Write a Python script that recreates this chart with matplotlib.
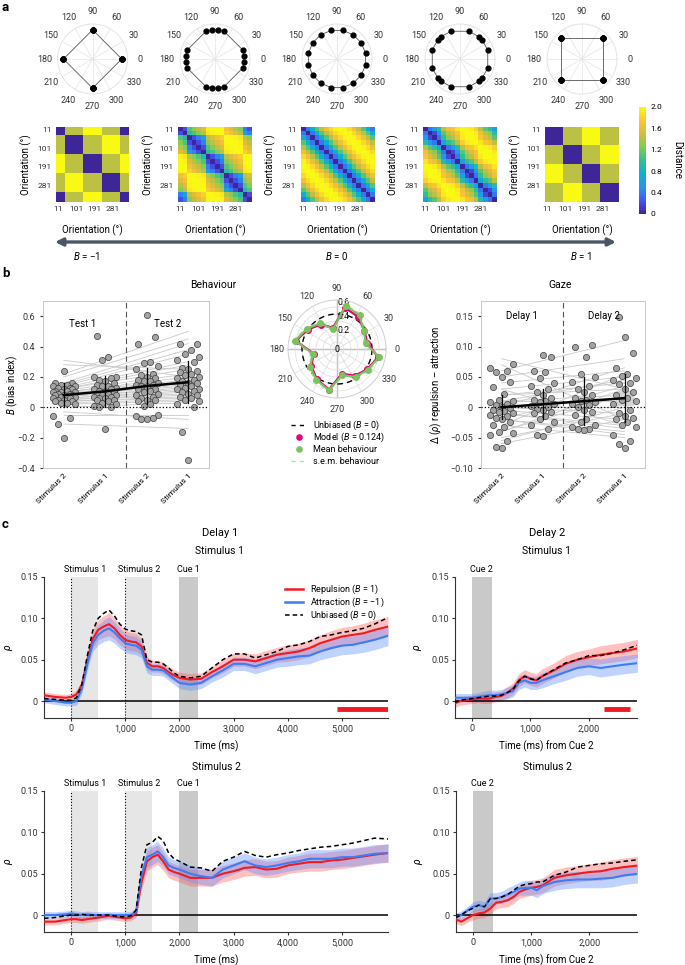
import numpy as np
import matplotlib
matplotlib.use("Agg")
import matplotlib.pyplot as plt
from matplotlib.colors import LinearSegmentedColormap
from matplotlib.patches import FancyArrowPatch, Rectangle
from matplotlib.transforms import blended_transform_factory

plt.rcParams["font.family"] = ["Roboto", "DejaVu Sans"]
plt.rcParams["mathtext.fontset"] = "custom"
plt.rcParams["mathtext.rm"] = "Roboto"
plt.rcParams["mathtext.it"] = "Roboto:italic"
plt.rcParams["font.size"] = 6.5
plt.rcParams["axes.linewidth"] = 0.7

RED = "#f01a23"; BLUE = "#3d7cf5"; GREEN = "#7cc25e"; MAGENTA = "#e5007d"; DARK = "#333333"

# ---------------- data: panel a ----------------
orient = [11.25, 33.75, 56.25, 78.75, 101.25, 123.75, 146.25, 168.75,
          191.25, 213.75, 236.25, 258.75, 281.25, 303.75, 326.25, 348.75]
ang_bm1 = [0, 0, 90, 90, 90, 90, 180, 180, 180, 180, 270, 270, 270, 270, 0, 0]
ang_bm05 = [6, 18, 72, 84, 96, 108, 162, 174, 186, 198, 252, 264, 276, 288, 342, 354]
ang_b0 = orient
ang_b05 = [18, 40, 50, 72, 108, 130, 140, 162, 198, 220, 230, 252, 288, 310, 320, 342]
ang_b1 = [45, 45, 45, 45, 135, 135, 135, 135, 225, 225, 225, 225, 315, 315, 315, 315]
a_sets = [ang_bm1, ang_bm05, ang_b0, ang_b05, ang_b1]
theta_ticks = [0, 30, 60, 90, 120, 150, 180, 210, 240, 270, 300, 330]

# ---------------- data: panel b ----------------
cond_labels = ["Stimulus 2", "Stimulus 1", "Stimulus 2", "Stimulus 1"]
beh_s2_t1 = [0.24, 0.16, 0.16, 0.15, 0.15, 0.14, 0.14, 0.13, 0.13, 0.12, 0.12, 0.11, 0.11, 0.10, 0.10, 0.10,
             0.09, 0.09, 0.08, 0.08, 0.08, 0.07, 0.07, 0.07, 0.06, 0.06, 0.05, 0.05, 0.04, 0.04, 0.03, 0.03,
             0.02, -0.06, -0.07, -0.11, -0.20]
beh_s1_t1 = [0.47, 0.33, 0.31, 0.20, 0.20, 0.19, 0.18, 0.17, 0.16, 0.15, 0.14, 0.14, 0.13, 0.12, 0.12, 0.11,
             0.10, 0.10, 0.09, 0.09, 0.08, 0.08, 0.07, 0.07, 0.06, 0.06, 0.05, 0.05, 0.04, 0.03, 0.02, 0.01,
             0.00, 0.00, -0.14]
beh_s2_t2 = [0.61, 0.46, 0.42, 0.30, 0.29, 0.27, 0.25, 0.22, 0.21, 0.20, 0.19, 0.18, 0.17, 0.17, 0.16, 0.15,
             0.15, 0.14, 0.13, 0.12, 0.12, 0.11, 0.10, 0.09, 0.08, 0.07, 0.06, 0.05, 0.05, 0.04, 0.02, 0.01,
             -0.05, -0.06, -0.07, -0.08, -0.08]
beh_s1_t2 = [0.42, 0.42, 0.38, 0.35, 0.33, 0.31, 0.30, 0.26, 0.25, 0.24, 0.23, 0.22, 0.21, 0.20, 0.19, 0.18,
             0.17, 0.16, 0.16, 0.15, 0.14, 0.13, 0.12, 0.12, 0.11, 0.10, 0.09, 0.08, 0.07, 0.06, 0.05, 0.04,
             0.02, 0.00, -0.16, -0.35]
beh_line_start = [0.31, 0.28, 0.22, 0.20, 0.16, 0.15, 0.14, 0.13, 0.12, 0.12, 0.11, 0.10, 0.10, 0.09, 0.09, 0.08,
                  0.08, 0.07, 0.07, 0.06, 0.06, 0.05, 0.05, 0.04, 0.04, 0.03, 0.02, 0.00, -0.03, -0.05, -0.11]
beh_line_end = [0.20, 0.25, 0.50, 0.45, 0.42, 0.38, 0.35, 0.30, 0.28, 0.25, 0.22, 0.20, 0.18, 0.17, 0.16, 0.15,
                0.14, 0.13, 0.12, 0.11, 0.10, 0.09, 0.08, 0.07, 0.06, 0.05, 0.04, 0.03, -0.08, -0.05, -0.14]
beh_mean = [0.08, 0.105, 0.14, 0.165]
beh_sem = [0.015, 0.02, 0.025, 0.025]
beh_err = [0.08, 0.10, 0.12, 0.14]

polar_mean = [0.42, 0.46, 0.58, 0.63, 0.29, 0.44, 0.52, 0.61, 0.35, 0.46, 0.53, 0.60, 0.38, 0.48, 0.53, 0.61]
polar_model = [0.44, 0.47, 0.55, 0.60, 0.31, 0.42, 0.50, 0.60, 0.34, 0.44, 0.52, 0.59, 0.36, 0.46, 0.52, 0.60]
polar_sem = [0.02, 0.02, 0.02, 0.025, 0.02, 0.02, 0.02, 0.025, 0.02, 0.02, 0.02, 0.025, 0.02, 0.02, 0.02, 0.025]
unbiased_r = 0.5

gaze_s2_d1 = [0.072, 0.065, 0.06, 0.058, 0.05, 0.042, 0.033, 0.022, 0.012, 0.01, 0.008, 0.005, 0.003, 0.0,
              -0.002, -0.004, -0.006, -0.008, -0.01, -0.012, -0.015, -0.018, -0.02, -0.025, -0.03, -0.032,
              -0.04, -0.043, -0.045, -0.055, -0.065, -0.067]
gaze_s1_d1 = [0.086, 0.082, 0.06, 0.058, 0.048, 0.04, 0.035, 0.03, 0.025, 0.02, 0.015, 0.012, 0.01, 0.008,
              0.005, 0.002, 0.0, -0.003, -0.005, -0.008, -0.01, -0.015, -0.02, -0.025, -0.03, -0.035, -0.045, -0.048]
gaze_s2_d2 = [0.103, 0.1, 0.083, 0.055, 0.05, 0.042, 0.035, 0.03, 0.025, 0.02, 0.015, 0.012, 0.01, 0.008,
              0.005, 0.003, 0.0, -0.005, -0.008, -0.012, -0.02, -0.025, -0.03, -0.033, -0.035, -0.036, -0.038]
gaze_s1_d2 = [0.148, 0.115, 0.09, 0.065, 0.055, 0.052, 0.048, 0.045, 0.04, 0.038, 0.03, 0.025, 0.02, 0.015,
              0.012, 0.01, 0.005, -0.005, -0.01, -0.015, -0.018, -0.02, -0.025, -0.03, -0.032, -0.045,
              -0.055, -0.06, -0.067]
gaze_line_start = [0.08, 0.07, 0.06, 0.05, 0.04, 0.03, 0.02, 0.02, 0.01, 0.01, 0.0, 0.0, -0.005, -0.01,
                   -0.01, -0.02, -0.02, -0.03, -0.03, -0.04, -0.04, -0.05, -0.055, -0.06, 0.0, 0.01, -0.02, 0.03]
gaze_line_end = [0.03, -0.02, 0.11, 0.08, 0.06, 0.05, 0.04, 0.03, 0.02, 0.01, 0.0, -0.01, -0.02, -0.03,
                 -0.035, -0.04, -0.045, -0.05, 0.055, 0.03, 0.02, -0.01, 0.0, -0.02, 0.065, 0.045, 0.035, -0.03]
gaze_mean = [0.0, 0.005, 0.01, 0.015]
gaze_sem = [0.007, 0.008, 0.009, 0.012]
gaze_err = [0.02, 0.025, 0.04, 0.04]

# ---------------- data: panel c ----------------
t_d1 = [-500, -300, -100, 0, 100, 200, 300, 400, 500, 600, 700, 800, 900, 1000, 1100, 1200, 1300, 1400,
        1500, 1600, 1700, 1800, 1900, 2000, 2200, 2400, 2600, 2800, 3000, 3200, 3400, 3600, 3800, 4000,
        4200, 4400, 4600, 4800, 5000, 5200, 5400, 5600, 5850]
d1s1_red = [.007, .005, .004, .005, .008, .020, .050, .075, .086, .090, .093, .088, .080, .074, .072, .071,
            .066, .046, .042, .042, .040, .035, .031, .028, .026, .027, .035, .042, .050, .050, .048, .052,
            .056, .058, .060, .064, .070, .074, .078, .080, .082, .086, .090]
d1s1_blue = [.002, .000, -.002, -.002, .000, .015, .045, .070, .080, .085, .088, .083, .076, .070, .068, .067,
             .062, .042, .038, .038, .037, .032, .027, .022, .020, .022, .030, .037, .045, .045, .042, .046,
             .050, .052, .054, .055, .060, .064, .067, .068, .071, .074, .079]
d1s1_black = [.003, .002, .001, .001, .004, .020, .055, .085, .100, .106, .110, .103, .093, .087, .085, .084,
              .080, .050, .047, .047, .045, .040, .034, .030, .028, .030, .040, .050, .057, .057, .052, .056,
              .060, .066, .068, .072, .078, .080, .083, .085, .088, .093, .101]
d1s1_sem = [.004, .004, .004, .004, .005, .006, .008, .010, .012, .013, .014, .013, .012, .011, .011, .011,
            .010, .008, .007, .007, .007, .007, .007, .007, .007, .007, .007, .008, .008, .008, .009, .009,
            .009, .010, .010, .010, .010, .011, .011, .011, .012, .012, .012]
d1s2_red = [-.008, -.008, -.006, -.005, -.005, -.006, -.005, -.004, -.003, -.002, -.001, -.002, -.003, -.004,
            -.003, .002, .040, .065, .070, .073, .065, .055, .052, .050, .045, .045, .045, .050, .053, .057,
            .058, .055, .056, .060, .062, .064, .064, .066, .067, .069, .071, .073, .075]
d1s2_blue = [.000, .000, .001, .002, .001, .000, .001, .000, .000, .000, .000, .000, .000, .000, .000, .004,
             .048, .070, .073, .077, .070, .060, .057, .055, .050, .047, .045, .055, .060, .065, .060, .058,
             .060, .063, .065, .068, .068, .068, .070, .070, .072, .074, .075]
d1s2_black = [-.004, -.003, -.001, .000, .000, .001, .000, .000, .000, .000, .000, -.001, -.002, -.002, -.001,
              .006, .058, .085, .088, .095, .090, .075, .068, .065, .058, .057, .053, .065, .070, .077, .072,
              .070, .073, .075, .078, .080, .082, .083, .085, .087, .090, .093, .092]
d1s2_sem = [.004, .004, .004, .004, .004, .004, .004, .004, .004, .004, .004, .004, .004, .004, .004, .005,
            .009, .012, .012, .012, .011, .010, .010, .010, .010, .010, .010, .010, .010, .010, .010, .010,
            .010, .010, .010, .011, .011, .011, .011, .011, .011, .011, .011]

t_d2 = [-300, -200, -100, 0, 100, 200, 300, 400, 500, 600, 700, 800, 900, 1000, 1100, 1200, 1400, 1600,
        1800, 2000, 2200, 2400, 2600, 2850]
d2s1_red = [-.003, .000, .001, .002, .003, .003, .003, .005, .006, .010, .015, .025, .030, .027, .025, .030,
            .037, .045, .050, .053, .056, .058, .060, .064]
d2s1_blue = [.004, .004, .004, .004, .005, .006, .007, .007, .008, .010, .012, .022, .025, .022, .022, .025,
             .030, .035, .040, .042, .040, .042, .044, .046]
d2s1_black = [-.002, .001, .002, .003, .004, .005, .006, .006, .007, .010, .014, .024, .030, .027, .025, .030,
              .038, .046, .050, .055, .055, .058, .062, .068]
d2s1_sem = [.005, .005, .005, .005, .005, .006, .006, .006, .006, .007, .007, .008, .008, .008, .008, .009,
            .009, .010, .010, .010, .011, .011, .011, .011]
d2s2_red = [-.005, -.008, -.004, .000, .002, .003, .008, .015, .016, .018, .022, .028, .031, .033, .034, .036,
            .045, .048, .050, .052, .053, .056, .058, .060]
d2s2_blue = [-.003, .000, .005, .010, .012, .010, .020, .020, .022, .025, .028, .032, .033, .033, .030, .035,
             .040, .042, .043, .043, .044, .045, .048, .050]
d2s2_black = [-.003, .000, .005, .008, .012, .010, .020, .020, .022, .025, .030, .035, .037, .038, .040, .040,
              .048, .052, .058, .060, .062, .063, .065, .067]
d2s2_sem = [.005, .005, .005, .006, .006, .006, .007, .007, .007, .008, .008, .008, .009, .009, .009, .009,
            .010, .010, .010, .010, .011, .011, .011, .011]
sig_d1s1 = (4900, 5850)
sig_d2s1 = (2250, 2700)

# ---------------- figure ----------------
W, H = 685, 965
fig = plt.figure(figsize=(W / 100, H / 100), dpi=100)

def rect(x0, y0, x1, y1):
    return [x0 / W, 1 - y1 / H, (x1 - x0) / W, (y1 - y0) / H]

ov = fig.add_axes([0, 0, 1, 1], zorder=10)
ov.set_xlim(0, W); ov.set_ylim(H, 0); ov.axis("off"); ov.patch.set_visible(False)

for lab, x, y in [("a", 2, 1), ("b", 2, 267), ("c", 2, 518)]:
    ov.text(x, y, lab, fontsize=9.5, fontweight="bold", va="top", ha="left")

def theta_labels(ax, r):
    ax.set_thetagrids(theta_ticks, labels=[""] * len(theta_ticks))
    for d in theta_ticks:
        ax.text(np.deg2rad(d), r, str(d), ha="center", va="center", fontsize=6.5, color=DARK, clip_on=False)

# ---------- a: polar orientation plots ----------
pa_cx = [92.6, 215, 337, 460, 582]
for cx, ang in zip(pa_cx, a_sets):
    pax = fig.add_axes(rect(cx - 35, 24, cx + 35, 94), projection="polar")
    th = np.deg2rad(ang + [ang[0]])
    pax.plot(th, [1] * len(th), color="#555555", lw=0.6)
    pax.scatter(np.deg2rad(ang), [1] * len(ang), s=12, color="black", zorder=3)
    pax.set_ylim(0, 1.2); pax.set_yticks([])
    theta_labels(pax, 1.64)
    pax.tick_params(axis="x", length=0)
    pax.grid(color="#e4e4e4", lw=0.5)
    pax.spines["polar"].set_color("#e0e0e0"); pax.spines["polar"].set_linewidth(0.6)

# ---------- a: distance matrices ----------
parula = LinearSegmentedColormap.from_list("parula", ["#3e2699", "#4755f7", "#2796eb", "#0ab0d0", "#37bd93",
                                                      "#80cc59", "#d8bc3a", "#fcc536", "#f9fa14"])
hx = [(56, 129), (178, 252), (300.5, 374), (423, 497), (545, 619)]
for (x0, x1), ang in zip(hx, a_sets):
    a = np.deg2rad(np.array(ang, dtype=float))
    D = 2 * np.abs(np.sin((a[:, None] - a[None, :]) / 2))
    hax = fig.add_axes(rect(x0, 127, x1, 202))
    im = hax.imshow(D, cmap=parula, vmin=0, vmax=2, aspect="auto", interpolation="nearest")
    hax.set_xticks([0, 4, 8, 12], ["11", "101", "191", "281"])
    hax.set_yticks([0, 4, 8, 12], ["11", "101", "191", "281"])
    hax.tick_params(length=0, pad=3, labelsize=6, colors=DARK)
    for s in hax.spines.values():
        s.set_visible(False)
    hax.set_ylabel("Orientation (°)", fontsize=7)
    hax.yaxis.set_label_coords(-0.33, 0.5)
    hax.set_xlabel("Orientation (°)", fontsize=7, labelpad=9)

cax = fig.add_axes(rect(639, 107, 646, 214))
cb = fig.colorbar(im, cax=cax, ticks=[0, 0.4, 0.8, 1.2, 1.6, 2.0])
cb.ax.set_yticklabels(["0", "0.4", "0.8", "1.2", "1.6", "2.0"])
cb.outline.set_visible(False)
cb.ax.tick_params(length=0, labelsize=6, pad=3)
ov.text(677, 160, "Distance", rotation=270, ha="center", va="center", fontsize=7)

ov.add_patch(FancyArrowPatch((55, 242), (616, 242), arrowstyle="<|-|>", mutation_scale=11,
                             color="#4a5566", lw=2.4, shrinkA=0, shrinkB=0))
for txt, x in [("$B$ = −1", 87), ("$B$ = 0", 336), ("$B$ = 1", 581)]:
    ov.text(x, 256, txt, ha="center", va="center", fontsize=7)

# ---------- b: scatter helpers ----------
JIT = np.array([0.0, -0.14, 0.14, -0.27, 0.27, -0.07, 0.07, -0.21, 0.21])

def swarm_x(x0, vals):
    order = np.argsort(vals)
    xs = np.empty(len(vals))
    xs[order] = x0 + JIT[np.arange(len(vals)) % len(JIT)]
    return xs

def subject_panel(ax, conds, lstart, lend, mean, sem, err):
    for s, e in zip(lstart, lend):
        ax.plot([1, 4], [s, e], color="#c9c9c9", lw=0.6, zorder=1)
    for i in range(4):
        ax.add_patch(Rectangle((i + 1 - 0.2, mean[i] - sem[i]), 0.4, 2 * sem[i], color="#d4d4d4", zorder=2))
        ax.plot([i + 1, i + 1], [mean[i] - err[i], mean[i] + err[i]], color="black", lw=0.9, zorder=4)
    for i, vals in enumerate(conds):
        ax.scatter(swarm_x(i + 1, vals), vals, s=20, facecolor="#a3a3a3", edgecolor="#3c3c3c",
                   lw=0.5, zorder=3)
    ax.plot([1, 2, 3, 4], mean, color="black", lw=1.8, zorder=5)
    ax.axhline(0, color="black", ls=":", lw=0.9, zorder=4)
    ax.axvline(2.5, color="#555555", ls=(0, (5, 3)), lw=0.8, zorder=4)
    ax.set_xlim(0.5, 4.5)
    ax.set_xticks([1, 2, 3, 4], cond_labels, rotation=45, ha="right", rotation_mode="anchor")
    ax.tick_params(axis="x", length=0, labelsize=6, pad=3)
    ax.tick_params(axis="y", length=2.5, labelsize=6.5, colors=DARK)
    for s in ax.spines.values():
        s.set_color("#c8c8c8")

# behaviour
bax = fig.add_axes(rect(43, 301, 209, 468))
subject_panel(bax, [beh_s2_t1, beh_s1_t1, beh_s2_t2, beh_s1_t2], beh_line_start, beh_line_end,
              beh_mean, beh_sem, beh_err)
bax.set_ylim(-0.4, 0.7)
bax.set_yticks([-0.4, -0.2, 0, 0.2, 0.4, 0.6], ["−0.4", "−0.2", "0", "0.2", "0.4", "0.6"])
bax.set_ylabel("$B$ (bias index)", fontsize=7)
bax.yaxis.set_label_coords(-0.14, 0.5)
bax.text(1.45, 0.55, "Test 1", ha="center", va="center", fontsize=7)
bax.text(3.5, 0.55, "Test 2", ha="center", va="center", fontsize=7)
ov.text(213, 285, "Behaviour", ha="center", va="center", fontsize=7.5)

# gaze
gax = fig.add_axes(rect(481, 301, 645, 468))
subject_panel(gax, [gaze_s2_d1, gaze_s1_d1, gaze_s2_d2, gaze_s1_d2], gaze_line_start, gaze_line_end,
              gaze_mean, gaze_sem, gaze_err)
gax.set_ylim(-0.1, 0.175)
gax.set_yticks([-0.1, -0.05, 0, 0.05, 0.1, 0.15], ["−0.10", "−0.05", "0", "0.05", "0.10", "0.15"])
gax.set_ylabel("Δ ($\\rho$) repulsion – attraction", fontsize=7)
gax.text(1.5, 0.15, "Delay 1", ha="center", va="center", fontsize=7)
gax.text(3.5, 0.15, "Delay 2", ha="center", va="center", fontsize=7)
ov.text(560, 285, "Gaze", ha="center", va="center", fontsize=7.5)

# polar behaviour
ppx = fig.add_axes(rect(288, 300, 386, 398), projection="polar")
circ = np.deg2rad(np.arange(0, 361, 2))
ppx.plot(circ, [unbiased_r] * len(circ), color="black", ls=(0, (4, 3)), lw=1.0, zorder=2)
th = np.deg2rad(orient + [orient[0]])
pm = np.array(polar_mean + [polar_mean[0]]); ps = np.array(polar_sem + [polar_sem[0]])
ppx.plot(th, pm + ps, color="#b9e0a5", ls=(0, (4, 3)), lw=0.8, zorder=3)
ppx.plot(th, pm - ps, color="#b9e0a5", ls=(0, (4, 3)), lw=0.8, zorder=3)
ppx.plot(th, polar_model + [polar_model[0]], color=MAGENTA, lw=1.6, zorder=4)
ppx.scatter(np.deg2rad(orient), polar_model, s=16, color=MAGENTA, zorder=5)
ppx.plot(th, pm, color=GREEN, lw=1.5, zorder=6)
ppx.scatter(np.deg2rad(orient), polar_mean, s=16, color=GREEN, zorder=7)
for d in [0, 90, 180, 270]:
    ppx.plot([np.deg2rad(d)] * 2, [0, 0.7], color="#8a8a8a", lw=0.9, zorder=1)
ppx.set_ylim(0, 0.7)
ppx.set_rgrids([0.1, 0.2, 0.3, 0.4, 0.5, 0.6], labels=["", "0.2", "", "0.4", "", "0.6"], angle=90, fontsize=6.3)
theta_labels(ppx, 0.86)
ppx.tick_params(axis="x", length=0)
ppx.grid(color="#dcdcdc", lw=0.5)
ppx.spines["polar"].set_color("#cfcfcf")
ppx.text(0, 0, "0", ha="center", va="center", fontsize=6.3)

leg = [("k--", "Unbiased ($B$ = 0)"), ("m", "Model ($B$ = 0.124)"), ("g", "Mean behaviour"),
       ("s", "s.e.m. behaviour")]
for i, (kind, txt) in enumerate(leg):
    y = 425 + 12 * i
    if kind == "k--":
        ov.plot([291, 306], [y, y], color="black", ls=(0, (3, 3)), lw=1)
    elif kind == "m":
        ov.scatter([299], [y], s=14, color=MAGENTA)
    elif kind == "g":
        ov.scatter([299], [y], s=14, color=GREEN)
    else:
        ov.plot([291, 306], [y, y], color="#b9e0a5", ls=(0, (3, 3)), lw=1)
    ov.text(313, y, txt, ha="left", va="center", fontsize=6.5)

# ---------- c: time courses ----------
def tpanel(r, t, red, blue, black, sem, xlim, xticks, xlabs, shades, vlines, sig, xlabel, ylab_x):
    ax = fig.add_axes(r)
    trans = blended_transform_factory(ax.transData, ax.transAxes)
    for (s0, s1, col, lab) in shades:
        ax.axvspan(s0, s1, color=col, lw=0, zorder=0)
        ax.annotate(lab, ((s0 + s1) / 2, 1.0), xycoords=trans, xytext=(0, 2), textcoords="offset points",
                    ha="center", va="bottom", fontsize=6.5)
    for v in vlines:
        ax.axvline(v, color="black", ls=":", lw=0.8, zorder=1)
    red = np.array(red); blue = np.array(blue); sem = np.array(sem)
    ax.fill_between(t, red - sem, red + sem, color="#ff5a5a", alpha=0.38, lw=0, zorder=2)
    ax.fill_between(t, blue - sem, blue + sem, color="#5a8cff", alpha=0.38, lw=0, zorder=2)
    ax.axhline(0, color="black", lw=1.1, zorder=3)
    ax.plot(t, red, color=RED, lw=1.5, zorder=4)
    ax.plot(t, blue, color=BLUE, lw=1.5, zorder=4)
    ax.plot(t, black, color="black", ls=(0, (3, 2)), lw=1.1, zorder=5)
    if sig is not None:
        ax.plot(sig, [-0.0095, -0.0095], color=RED, lw=3.5, solid_capstyle="butt", zorder=5)
    ax.set_xlim(*xlim); ax.set_ylim(-0.0205, 0.15)
    ax.set_xticks(xticks, xlabs)
    ax.set_yticks([0, 0.05, 0.1, 0.15], ["0", "0.05", "0.10", "0.15"])
    ax.spines[["top", "right"]].set_visible(False)
    for s in ["left", "bottom"]:
        ax.spines[s].set_color(DARK); ax.spines[s].set_linewidth(0.8)
    ax.tick_params(length=2.5, labelsize=6.5, colors=DARK, pad=2)
    ax.set_xlabel(xlabel, fontsize=7, labelpad=5)
    ax.set_ylabel("$\\rho$", fontsize=7.5)
    ax.yaxis.set_label_coords(ylab_x, 0.5)
    return ax

d1_shades = [(0, 500, "#e6e6e6", "Stimulus 1"), (1000, 1500, "#e6e6e6", "Stimulus 2"),
             (2000, 2340, "#c9c9c9", "Cue 1")]
d2_shades = [(0, 340, "#c9c9c9", "Cue 2")]
d1_ticks = [0, 1000, 2000, 3000, 4000, 5000]
d1_labs = ["0", "1,000", "2,000", "3,000", "4,000", "5,000"]
d2_ticks = [0, 1000, 2000]
d2_labs = ["0", "1,000", "2,000"]

tpanel(rect(44, 577, 388, 718), t_d1, d1s1_red, d1s1_blue, d1s1_black, d1s1_sem, (-500, 5850),
       d1_ticks, d1_labs, d1_shades, [0, 1000], sig_d1s1, "Time (ms)", -0.085)
tpanel(rect(455, 577, 637, 718), t_d2, d2s1_red, d2s1_blue, d2s1_black, d2s1_sem, (-290, 2820),
       d2_ticks, d2_labs, d2_shades, [], sig_d2s1, "Time (ms) from Cue 2", -0.17)
tpanel(rect(44, 791, 388, 932), t_d1, d1s2_red, d1s2_blue, d1s2_black, d1s2_sem, (-500, 5850),
       d1_ticks, d1_labs, d1_shades, [0, 1000], None, "Time (ms)", -0.085)
tpanel(rect(456, 791, 637, 932), t_d2, d2s2_red, d2s2_blue, d2s2_black, d2s2_sem, (-290, 2820),
       d2_ticks, d2_labs, d2_shades, [], None, "Time (ms) from Cue 2", -0.17)

# legend for panel c (drawn in figure pixels)
c_leg = [(RED, "-", 1.8, "Repulsion ($B$ = 1)"), (BLUE, "-", 1.8, "Attraction ($B$ = −1)"),
         ("black", (0, (3, 2)), 1.1, "Unbiased ($B$ = 0)")]
for i, (col, ls, lw, txt) in enumerate(c_leg):
    y = 589 + 13 * i
    ov.plot([285, 303], [y, y], color=col, ls=ls, lw=lw)
    ov.text(310, y, txt, ha="left", va="center", fontsize=6.5)

for txt, x, y, fs in [("Delay 1", 220, 533, 8), ("Stimulus 1", 220, 551, 7.5), ("Delay 2", 547, 533, 8),
                      ("Stimulus 1", 547, 551, 7.5), ("Stimulus 2", 216, 767, 7.5), ("Stimulus 2", 547, 767, 7.5)]:
    ov.text(x, y, txt, ha="center", va="center", fontsize=fs)

fig.savefig("out.png", dpi=100, facecolor="white")
